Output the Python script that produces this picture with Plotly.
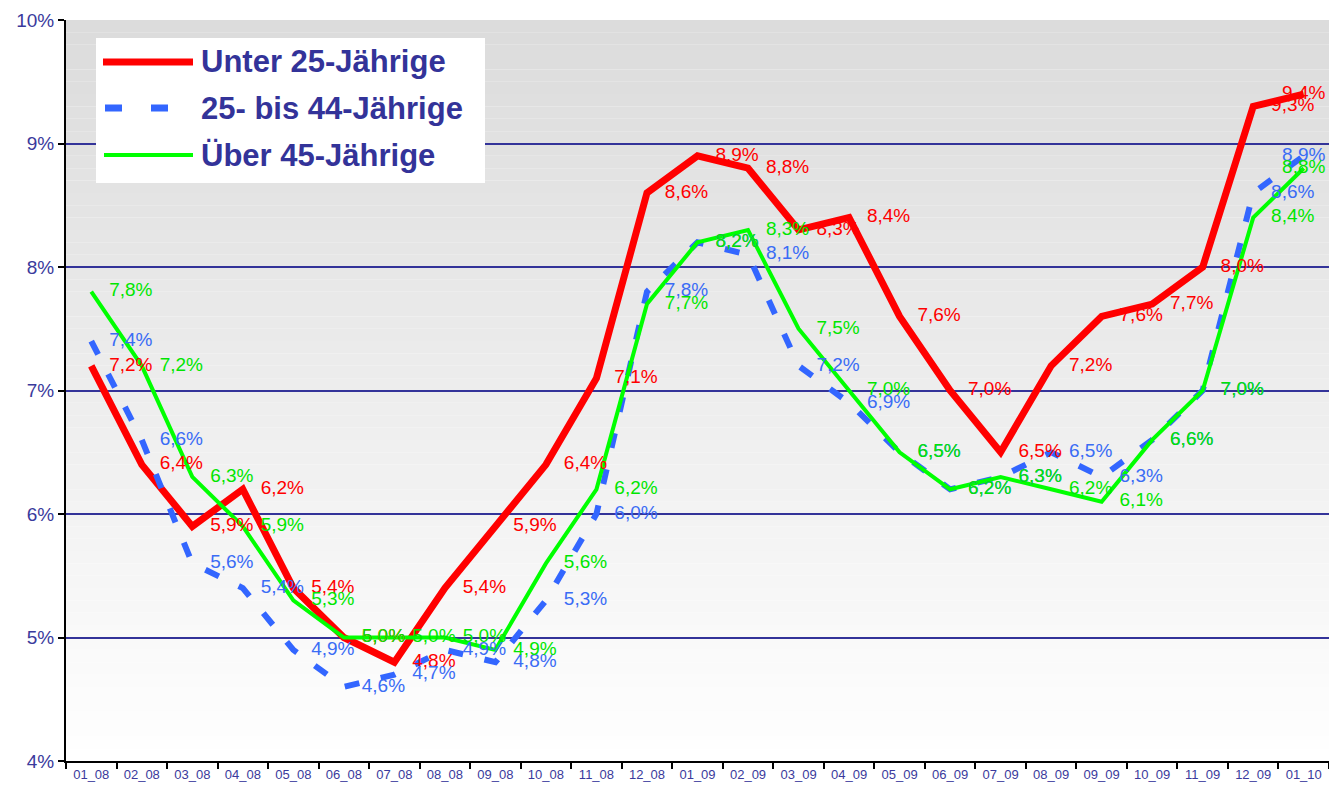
import plotly.graph_objects as go

# Monatswerte Jan 2008 - Jan 2010 (Arbeitslosenquote in %)
monate = ["01_08", "02_08", "03_08", "04_08", "05_08", "06_08", "07_08", "08_08",
          "09_08", "10_08", "11_08", "12_08", "01_09", "02_09", "03_09", "04_09",
          "05_09", "06_09", "07_09", "08_09", "09_09", "10_09", "11_09", "12_09", "01_10"]

unter_25 = [7.2, 6.4, 5.9, 6.2, 5.4, 5.0, 4.8, 5.4, 5.9, 6.4, 7.1, 8.6, 8.9,
            8.8, 8.3, 8.4, 7.6, 7.0, 6.5, 7.2, 7.6, 7.7, 8.0, 9.3, 9.4]
von_25_bis_44 = [7.4, 6.6, 5.6, 5.4, 4.9, 4.6, 4.7, 4.9, 4.8, 5.3, 6.0, 7.8, 8.2,
                 8.1, 7.2, 6.9, 6.5, 6.2, 6.3, 6.5, 6.3, 6.6, 7.0, 8.6, 8.9]
ueber_45 = [7.8, 7.2, 6.3, 5.9, 5.3, 5.0, 5.0, 5.0, 4.9, 5.6, 6.2, 7.7, 8.2,
            8.3, 7.5, 7.0, 6.5, 6.2, 6.3, 6.2, 6.1, 6.6, 7.0, 8.4, 8.8]

namen = ["Unter 25-Jährige", "25- bis 44-Jährige", "Über 45-Jährige"]

NAVY = "#333399"
FONT = "Arial, Liberation Sans, sans-serif"

serien = [
    (unter_25, "#ff0000", "#ff0000", 7, "solid"),
    (von_25_bis_44, "#3366ff", "#3a6cf5", 6, "15px,22px"),
    (ueber_45, "#00ff00", "#00e600", 4, "solid"),
]


def beschriftung(werte):
    return [("%.1f%%" % v).replace(".", ",") for v in werte]


def textpos(werte):
    # letzter Punkt wird zentriert, damit er nicht aus dem Bild läuft
    return ["middle right"] * (len(werte) - 1) + ["middle center"]


fig = go.Figure()

# Linien zuerst
for (werte, farbe, _, breite, dash), name in zip(serien, namen):
    fig.add_trace(go.Scatter(x=monate, y=werte, mode="lines", name=name,
                             line=dict(color=farbe, width=breite, dash=dash),
                             showlegend=False, hoverinfo="skip"))

# Datenbeschriftungen oben drauf
for (werte, _, textfarbe, _, _), name in zip(serien, namen):
    fig.add_trace(go.Scatter(x=monate, y=werte, mode="markers+text",
                             text=beschriftung(werte), textposition=textpos(werte),
                             textfont=dict(family=FONT, size=19, color=textfarbe),
                             marker=dict(size=27, color="rgba(0,0,0,0)"),
                             cliponaxis=False, showlegend=False, hoverinfo="skip"))

# Hintergrundverlauf grau -> weiss
shapes = []
n = 60
for i in range(n):
    t = i / (n - 1)
    c = int(255 - (255 - 220) * t)
    shapes.append(dict(type="rect", xref="paper", yref="paper", x0=0, x1=1,
                       y0=i / n, y1=(i + 1) / n, layer="below",
                       fillcolor="rgb(%d,%d,%d)" % (c, c, c), line=dict(width=0)))

# eigene Legende (Excel-Stil, lange Linienmuster)
def px_x(p):
    return (p - 66) / 1263.0


def px_y(p):
    return (761 - p) / 741.0


shapes.append(dict(type="rect", xref="paper", yref="paper", x0=px_x(96), x1=px_x(485),
                   y0=px_y(183), y1=px_y(38), fillcolor="white", line=dict(width=0),
                   layer="above"))
legende_y = [62, 108, 155]
legende_linie = [(103, 193, "#ff0000", 7, "solid"),
                 (105, 168, "#3366ff", 7, "17px,29px"),
                 (104, 193, "#00ff00", 4, "solid")]
for (x0, x1, farbe, breite, dash), yy in zip(legende_linie, legende_y):
    shapes.append(dict(type="line", xref="paper", yref="paper", x0=px_x(x0), x1=px_x(x1),
                       y0=px_y(yy), y1=px_y(yy), layer="above",
                       line=dict(color=farbe, width=breite, dash=dash)))

annotations = []
for name, yy in zip(namen, legende_y):
    annotations.append(dict(xref="paper", yref="paper", x=px_x(199), y=px_y(yy),
                            xanchor="left", yanchor="middle", showarrow=False,
                            text="<b>%s</b>" % name,
                            font=dict(family=FONT, size=31, color=NAVY)))

fig.update_layout(
    width=1329, height=789,
    margin=dict(l=66, r=0, t=20, b=28),
    paper_bgcolor="white", plot_bgcolor="white",
    shapes=shapes, annotations=annotations,
    showlegend=False,
    xaxis=dict(type="category", range=[-0.5, len(monate) - 0.5], showgrid=False,
               showline=True, linecolor="black",
               linewidth=2, ticks="outside", tickson="boundaries", ticklen=6,
               tickcolor="black", tickwidth=2,
               tickfont=dict(family=FONT, size=13, color="#3a3a9c")),
    yaxis=dict(range=[4, 10], dtick=1, ticksuffix="%", showgrid=True,
               gridcolor=NAVY, gridwidth=2, showline=True, linecolor="black",
               linewidth=2, ticks="outside", ticklen=6, tickcolor="black",
               tickwidth=2, zeroline=False,
               tickfont=dict(family=FONT, size=19, color="#3a3a9c")),
)

fig.write_html("out.html", config={"displayModeBar": False},
               post_script="document.body.style.margin='0';")
